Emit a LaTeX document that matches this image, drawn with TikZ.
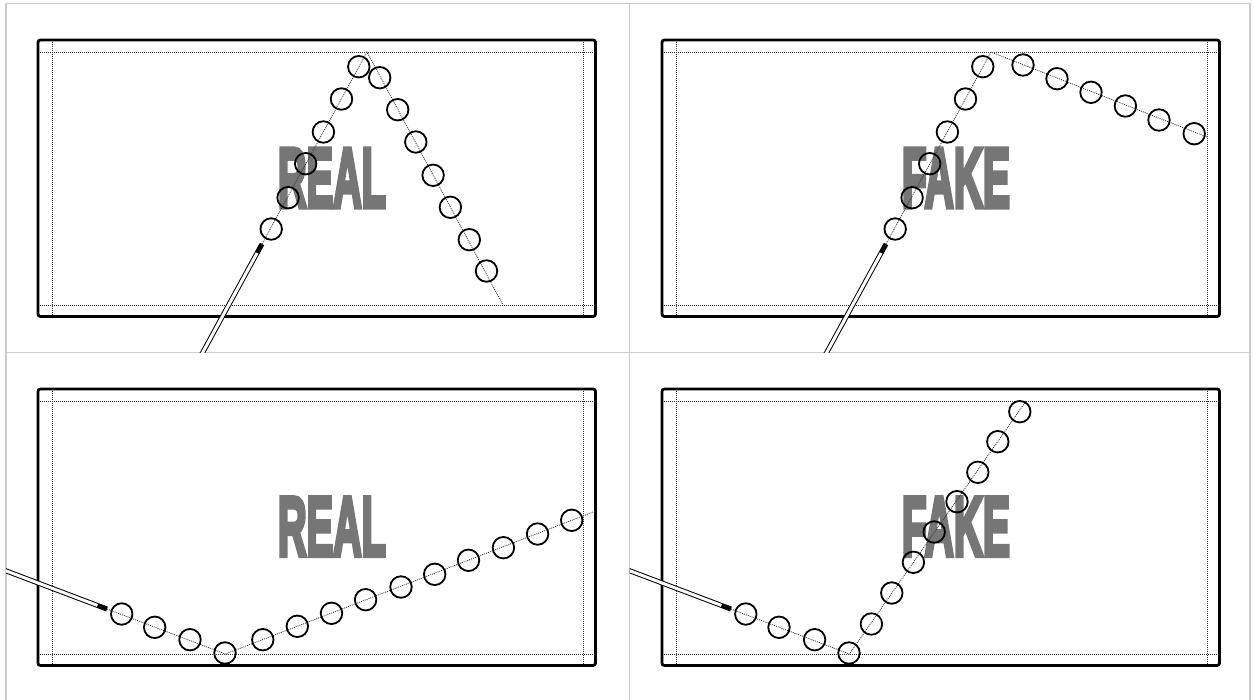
\documentclass[tikz,border=0pt]{standalone}
\usepackage{fontspec}
\usepackage{graphicx}
\newfontfamily\heavyfont{Liberation Sans}[BoldFeatures={FakeBold=6}]
\definecolor{gridgray}{HTML}{CCCCCC}
\definecolor{stampgray}{HTML}{767676}
\definecolor{dotgray}{HTML}{333333}
\tikzset{
  cell/.style={draw=gridgray, line width=0.6pt},
  tablebox/.style={draw=black, line width=1.4pt, rounded corners=1.2pt},
  guide/.style={draw=dotgray, line width=0.4pt, dash pattern=on 0.5pt off 0.5pt},
  traj/.style={draw=dotgray, line width=0.4pt, dash pattern=on 0.5pt off 0.5pt},
  ball/.style={circle, draw=black, line width=0.9pt, minimum size=10.75pt, inner sep=0pt},
  cue/.style={draw=black, line width=0.5pt, double=white, double distance=1.5pt},
  cuetip/.style={draw=black, line width=2.5pt},
  stamp/.style={text=stampgray, inner sep=0pt}
}
\begin{document}
\begin{tikzpicture}[x=0.5pt,y=-0.5pt]
\useasboundingbox (0,0) rectangle (1254,700);
% panel grid
\draw[cell] (6,700) -- (6,3.3) -- (1250,3.3) -- (1250,700);
\draw[cell] (629.7,3.3) -- (629.7,700);
\draw[cell] (6,352.3) -- (1250,352.3);
% tables
\foreach \dx/\dy in {0/0,624/0,0/349,624/349}{
  \begin{scope}[shift={(\dx,\dy)}]
    \draw[guide] (38,52) -- (595.5,52);
    \draw[guide] (38,305) -- (595.5,305);
    \draw[guide] (52,40) -- (52,316.5);
    \draw[guide] (583.5,40) -- (583.5,316.5);
    \draw[tablebox] (38,40) rectangle (595.5,316.5);
  \end{scope}
}
% labels
\node[stamp] (s1) at (332,178) {\resizebox{54pt}{29pt}{\heavyfont\bfseries REAL}};
\node[stamp] (s2) at (956,178) {\resizebox{54pt}{29pt}{\heavyfont\bfseries FAKE}};
\node[stamp] (s3) at (332,526.7) {\resizebox{54pt}{29pt}{\heavyfont\bfseries REAL}};
\node[stamp] (s4) at (956,526.7) {\resizebox{54pt}{29pt}{\heavyfont\bfseries FAKE}};
% trajectory points
\coordinate (t1) at (262,244);   \coordinate (a1) at (367,52);   \coordinate (e1) at (503,305);
\coordinate (t2) at (886,244);   \coordinate (a2) at (991,52);   \coordinate (e2) at (1207,137);
\coordinate (t3) at (107,609);   \coordinate (a3) at (225.4,654); \coordinate (e3) at (595,511.3);
\coordinate (t4) at (731,609);   \coordinate (a4) at (849.4,654); \coordinate (e4) at (1026,401);
\draw[traj] (t1) -- (a1) -- (e1);
\draw[traj] (t2) -- (a2) -- (e2);
\draw[traj] (t3) -- (a3) -- (e3);
\draw[traj] (t4) -- (a4) -- (e4);
% cues
\coordinate (k1) at (257.2,252.8); \coordinate (c1) at (198.6,360);
\coordinate (k2) at (881.2,252.8); \coordinate (c2) at (822.6,360);
\coordinate (k3) at (97.6,605.5);  \coordinate (c3) at (0,568.6);
\coordinate (k4) at (721.6,605.5); \coordinate (c4) at (624,568.6);
\begin{scope}
  \clip (6,3.3) rectangle (629.7,352.3);
  \draw[cue] (k1) -- (c1);
  \draw[cuetip] (t1) -- (k1);
\end{scope}
\begin{scope}
  \clip (629.7,3.3) rectangle (1254,352.3);
  \draw[cue] (k2) -- (c2);
  \draw[cuetip] (t2) -- (k2);
\end{scope}
\begin{scope}
  \clip (6,352.3) rectangle (629.7,700);
  \draw[cue] (k3) -- (c3);
  \draw[cuetip] (t3) -- (k3);
\end{scope}
\begin{scope}
  \clip (629.7,352.3) rectangle (1254,700);
  \draw[cue] (k4) -- (c4);
  \draw[cuetip] (t4) -- (k4);
\end{scope}
% balls
\foreach \x/\y [count=\i] in {271.2/229,288.1/197.7,305.7/163.7,323.4/132,341.5/99,358.8/66.7,
  379.7/77.7,397.7/109.7,415.8/142,433.1/175.3,450.4/207.3,469.3/239.7,486.5/271}
  \node[ball] (p1b\i) at (\x,\y) {};
\foreach \x/\y [count=\i] in {895.2/229,912.1/197.7,929.7/163.7,947.4/132,965.5/99,982.8/66.7,
  1023/65,1057/78.7,1091/92.3,1125.4/106,1159/120,1194.2/133.7}
  \node[ball] (p2b\i) at (\x,\y) {};
\foreach \x/\y [count=\i] in {121.7/614,154.7/627.3,190/639.7,225/653,262.8/639.7,297.3/626.3,
  331.5/613.3,365.6/599.7,401/587,434.7/574.3,468.5/560.3,503.4/547.7,537.6/534,571.7/520.3}
  \node[ball] (p3b\i) at (\x,\y) {};
\foreach \x/\y [count=\i] in {745.8/614,779/627.3,814.6/639.7,849/653,871.4/624,891.8/593,
  913.4/562.3,934.2/532,957/501.7,977.8/472.3,997.8/441.7,1019.8/411.7}
  \node[ball] (p4b\i) at (\x,\y) {};
\end{tikzpicture}
\end{document}
